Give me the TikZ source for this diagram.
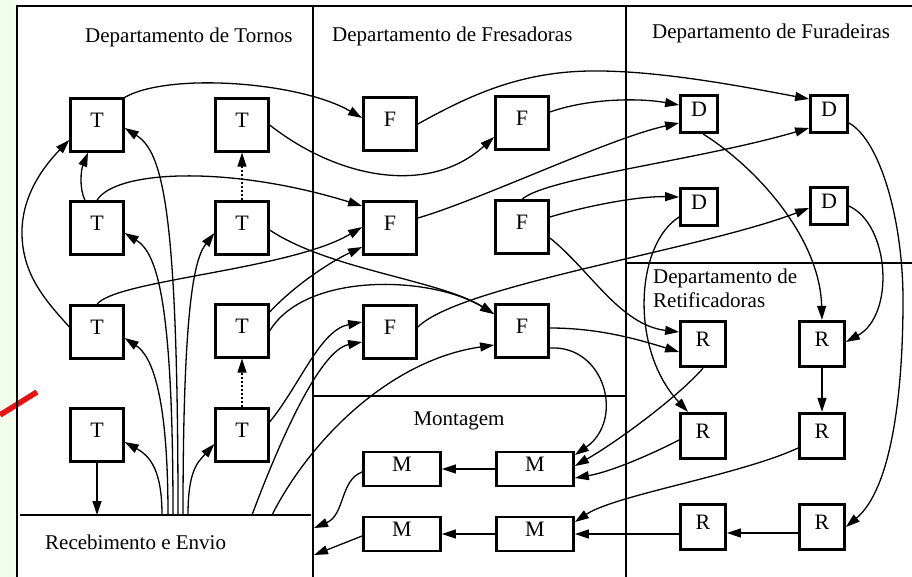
\documentclass[tikz,border=0pt]{standalone}
\usepackage{fontspec}
\setmainfont{Liberation Serif}
\usetikzlibrary{arrows.meta,calc}
\definecolor{margin}{RGB}{241,255,236}
\definecolor{pen}{RGB}{232,18,18}

\begin{document}
\begin{tikzpicture}[x=1pt,y=-1pt,
  machine/.style={draw, fill=white, line width=2.8pt, inner sep=0pt,
    font=\fontsize{22}{24}\selectfont, text height=15pt, text depth=10.4pt},
  tbox/.style={machine, minimum width=52.5pt, minimum height=52.5pt},
  fbox/.style={machine, minimum width=53pt, minimum height=52.5pt},
  dbox/.style={machine, minimum width=37pt, minimum height=37pt},
  rbox/.style={machine, minimum width=45pt, minimum height=45.5pt},
  mbox/.style={machine, minimum width=77pt, minimum height=34pt},
  flow/.style={line width=1.3pt, -{Triangle[length=14pt,width=9pt]}},
  chain/.style={flow, dash pattern=on 2.5pt off 1.5pt},
  wall/.style={line width=1.8pt},
  title/.style={anchor=base west, inner sep=0pt, font=\fontsize{21}{24}\selectfont}
]
\useasboundingbox (0,0) rectangle (912,577);

% page margin and stray pen mark
\fill[margin] (0,0) rectangle (15,577);
\draw[pen, line width=5.5pt] (0,415) -- (37,392);

% department walls
\draw[wall] (17,577) -- (17,6) -- (912,6);
\draw[wall] (313,6) -- (313,577);
\draw[wall] (626,6) -- (626,577);
\draw[wall] (626,263) -- (912,263);
\draw[wall] (313,396) -- (626,396);
\draw[wall] (20,515) -- (311,515);

% department names
\node[title] (lt) at (85,43) {Departamento de Tornos};
\node[title] (lf) at (332,42) {Departamento de Fresadoras};
\node[title] (ld) at (652,39) {Departamento de Furadeiras};
\node[title] (lr1) at (653,283) {Departamento de};
\node[title] (lr2) at (653,307) {Retificadoras};
\node[title, anchor=base] (lm) at (459,425) {Montagem};
\node[title] (lre) at (45,549) {Recebimento e Envio};

% lathes
\node[tbox] (T11) at (97,125) {T};
\node[tbox] (T12) at (242,125) {T};
\node[tbox] (T21) at (97,228) {T};
\node[tbox] (T22) at (242,228) {T};
\node[tbox] (T31) at (97,332) {T};
\node[tbox] (T32) at (242,331) {T};
\node[tbox] (T41) at (97,435) {T};
\node[tbox] (T42) at (242,435) {T};
% milling machines
\node[fbox] (F11) at (390,124) {F};
\node[fbox] (F12) at (522,123) {F};
\node[fbox] (F21) at (390,228) {F};
\node[fbox] (F22) at (522,227) {F};
\node[fbox] (F31) at (390,332) {F};
\node[fbox] (F32) at (522,331) {F};
% drills
\node[dbox] (D11) at (699,114) {D};
\node[dbox] (D12) at (829,114) {D};
\node[dbox] (D21) at (699,207) {D};
\node[dbox] (D22) at (829,206) {D};
% grinders
\node[rbox] (R11) at (703,344) {R};
\node[rbox] (R12) at (822,344) {R};
\node[rbox] (R21) at (703,436) {R};
\node[rbox] (R22) at (822,436) {R};
\node[rbox] (R31) at (703,527) {R};
\node[rbox] (R32) at (822,527) {R};
% assembly
\node[mbox] (M11) at (402,469) {M};
\node[mbox] (M12) at (535,469) {M};
\node[mbox] (M21) at (402,534) {M};
\node[mbox] (M22) at (535,534) {M};

% docking points on the receiving area
\coordinate (rb0) at (97,515);
\coordinate (rb1) at (162,515);
\coordinate (rb2) at (168,515);
\coordinate (rb3) at (173,515);
\coordinate (rb4) at (178,515);
\coordinate (rb5) at (183,515);
\coordinate (rb6) at (188,515);
\coordinate (rb7) at (252,515);
\coordinate (rb8) at (272,515);
\coordinate (ro1) at (314,528);
\coordinate (ro2) at (314,555);

% receiving -> lathes
\draw[flow] (rb1) .. controls (162,470) and (150,456) .. ($(T41.east)+(0,7)$);
\draw[flow] (rb2) .. controls (168,395) and (152,356) .. ($(T31.east)+(0,6)$);
\draw[flow] (rb3) .. controls (173,300) and (157,253) .. ($(T21.east)+(0,5)$);
\draw[flow] (rb4) .. controls (178,210) and (163,152) .. ($(T11.east)+(0,3)$);
\draw[flow] (rb5) .. controls (183,300) and (195,258) .. ($(T22.west)+(0,5)$);
\draw[flow] (rb6) .. controls (188,470) and (198,462) .. ($(T42.west)+(0,9)$);
\draw[flow] (T41.south) -- (rb0);

% within the lathe department
\draw[chain] (T42.north) -- (T32.south);
\draw[chain] (T22.north) -- (T12.south);
\draw[flow] ($(T21.north)+(-12,0)$) .. controls (79,188) and (81,170) .. ($(T11.south)+(-9,0)$);
\draw[flow] ($(T31.west)+(0,-5)$) .. controls (45,300) and (23,275) .. (22,235)
  .. controls (21,195) and (45,165) .. ($(T11.west)+(0,15)$);

% lathes -> milling
\draw[flow] (T11.north east) .. controls (170,72) and (300,82) .. ($(F11.west)+(0,-6)$);
\draw[flow] (T12.east) .. controls (340,180) and (430,195) .. ($(F12.west)+(0,14)$);
\draw[flow] (T21.north) .. controls (115,170) and (230,165) .. ($(F21.west)+(0,-22)$);
\draw[flow] (T31.north) .. controls (115,280) and (290,270) .. ($(F21.west)+(0,-1)$);
\draw[flow] ($(T32.east)+(0,-19)$) .. controls (295,285) and (330,262) .. ($(F21.west)+(0,19)$);
\draw[flow] (T32.east) .. controls (305,272) and (430,275) .. ($(F32.west)+(0,-17)$);
\draw[flow] ($(T22.east)+(0,2)$) .. controls (330,270) and (440,280) .. ($(F32.west)+(0,-17)$);
\draw[flow] ($(T42.east)+(0,-13)$) .. controls (300,385) and (320,330) .. ($(F31.west)+(0,-10)$);
\draw[flow] (rb7) .. controls (280,440) and (320,350) .. ($(F31.west)+(0,10)$);
\draw[flow] (rb8) .. controls (310,440) and (390,360) .. ($(F32.west)+(0,14)$);

% milling -> drills, grinders, assembly
\draw[flow] (F11.east) .. controls (470,95) and (520,72) .. (590,71)
  .. controls (660,70) and (750,88) .. ($(D12.west)+(0,-15)$);
\draw[flow] ($(F12.east)+(0,-11)$) .. controls (590,98) and (640,98) .. ($(D11.west)+(0,-9)$);
\draw[flow] ($(F21.east)+(0,-10)$) .. controls (480,200) and (610,138) .. ($(D11.west)+(0,9)$);
\draw[flow] (F22.north) .. controls (545,178) and (700,160) .. ($(D12.west)+(0,14)$);
\draw[flow] ($(F22.east)+(0,-10)$) .. controls (590,205) and (640,196) .. ($(D21.west)+(0,-10)$);
\draw[flow] ($(F22.east)+(0,11)$) .. controls (590,270) and (620,325) .. ($(R11.west)+(0,-12)$);
\draw[flow] ($(F31.east)+(0,-5)$) .. controls (460,285) and (700,250) .. ($(D22.west)+(0,2)$);
\draw[flow] ($(F32.east)+(0,-3)$) .. controls (600,328) and (640,340) .. ($(R11.west)+(0,8)$);
\draw[flow] ($(F32.east)+(0,17)$) .. controls (605,345) and (625,420) .. ($(M12.east)+(0,-14)$);

% drills -> grinders
\draw[flow] ($(D11.south)+(4,0)$) .. controls (760,170) and (820,240) .. (R12.north);
\draw[flow] ($(D12.east)+(0,9)$) .. controls (880,140) and (903,220) .. (903,300)
  .. controls (903,400) and (890,490) .. (R32.east);
\draw[flow] ($(D21.west)+(0,10)$) .. controls (635,245) and (630,350) .. ($(R21.north)+(-15,0)$);
\draw[flow] (D22.east) .. controls (890,225) and (895,315) .. ($(R12.east)+(0,-2)$);

% grinders -> assembly
\draw[flow] (R12.south) -- (R22.north);
\draw[flow] (R11.south) .. controls (680,395) and (620,440) .. ($(M12.east)+(0,-3)$);
\draw[flow] ($(R21.west)+(0,4)$) .. controls (650,455) and (610,472) .. ($(M12.east)+(0,9)$);
\draw[flow] ($(R22.west)+(0,12)$) .. controls (740,475) and (615,495) .. ($(M22.east)+(0,-12)$);
\draw[flow] ($(R32.west)+(0,6)$) -- ($(R31.east)+(0,6)$);
\draw[flow] ($(R31.west)+(0,7)$) -- (M22.east);

% assembly -> shipping
\draw[flow] (M12.west) -- (M11.east);
\draw[flow] (M22.west) -- (M21.east);
\draw[flow] ($(M11.west)+(0,3)$) .. controls (340,480) and (345,515) .. (ro1);
\draw[flow] ($(M21.west)+(0,2)$) -- (ro2);
\end{tikzpicture}
\end{document}
